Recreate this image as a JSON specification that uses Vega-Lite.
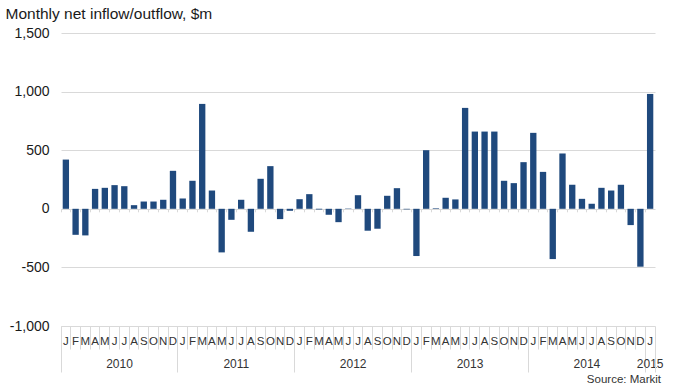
{
  "$schema": "https://vega.github.io/schema/vega-lite/v6.json",
  "width": 594,
  "height": 293,
  "autosize": "none",
  "padding": {"left": 61, "top": 33, "right": 20, "bottom": 59},
  "background": "white",
  "config": {
    "view": {"stroke": null},
    "font": "Liberation Sans",
    "axis": {"labelFont": "Liberation Sans", "titleFont": "Liberation Sans"}
  },
  "title": {
    "text": "Source: Markit",
    "orient": "bottom",
    "anchor": "end",
    "frame": "group",
    "fontSize": 11.5,
    "fontWeight": "normal",
    "color": "#333333",
    "offset": 1,
    "dx": 6
  },
  "data": {
    "values": [
      {"m": "2010-01", "v": 420}, {"m": "2010-02", "v": -222}, {"m": "2010-03", "v": -227}, {"m": "2010-04", "v": 170},
      {"m": "2010-05", "v": 179}, {"m": "2010-06", "v": 202}, {"m": "2010-07", "v": 193}, {"m": "2010-08", "v": 31},
      {"m": "2010-09", "v": 62}, {"m": "2010-10", "v": 62}, {"m": "2010-11", "v": 77}, {"m": "2010-12", "v": 324},
      {"m": "2011-01", "v": 88}, {"m": "2011-02", "v": 239}, {"m": "2011-03", "v": 895}, {"m": "2011-04", "v": 156},
      {"m": "2011-05", "v": -372}, {"m": "2011-06", "v": -94}, {"m": "2011-07", "v": 77}, {"m": "2011-08", "v": -196},
      {"m": "2011-09", "v": 256}, {"m": "2011-10", "v": 364}, {"m": "2011-11", "v": -88}, {"m": "2011-12", "v": -17},
      {"m": "2012-01", "v": 82}, {"m": "2012-02", "v": 125}, {"m": "2012-03", "v": -6}, {"m": "2012-04", "v": -51},
      {"m": "2012-05", "v": -114}, {"m": "2012-06", "v": 3}, {"m": "2012-07", "v": 116}, {"m": "2012-08", "v": -187},
      {"m": "2012-09", "v": -170}, {"m": "2012-10", "v": 111}, {"m": "2012-11", "v": 176}, {"m": "2012-12", "v": -5},
      {"m": "2013-01", "v": -403}, {"m": "2013-02", "v": 500}, {"m": "2013-03", "v": 5}, {"m": "2013-04", "v": 94},
      {"m": "2013-05", "v": 80}, {"m": "2013-06", "v": 861}, {"m": "2013-07", "v": 659}, {"m": "2013-08", "v": 659},
      {"m": "2013-09", "v": 659}, {"m": "2013-10", "v": 239}, {"m": "2013-11", "v": 219}, {"m": "2013-12", "v": 398},
      {"m": "2014-01", "v": 648}, {"m": "2014-02", "v": 315}, {"m": "2014-03", "v": -429}, {"m": "2014-04", "v": 472},
      {"m": "2014-05", "v": 205}, {"m": "2014-06", "v": 85}, {"m": "2014-07", "v": 43}, {"m": "2014-08", "v": 179},
      {"m": "2014-09", "v": 156}, {"m": "2014-10", "v": 205}, {"m": "2014-11", "v": -139}, {"m": "2014-12", "v": -494},
      {"m": "2015-01", "v": 980}
    ]
  },
  "resolve": {"axis": {"x": "independent"}},
  "layer": [
    {
      "mark": {"type": "bar", "color": "#1f497d", "width": {"band": 0.65}},
      "encoding": {
        "x": {
          "field": "m",
          "type": "ordinal",
          "scale": {"paddingInner": 0, "paddingOuter": 0},
          "axis": {
            "orient": "bottom",
            "title": null,
            "domain": false,
            "grid": false,
            "bandPosition": 0,
            "ticks": true,
            "tickSize": 23,
            "tickColor": "#d9d9d9",
            "tickWidth": 1,
            "labelExpr": "['J','F','M','A','M','J','J','A','S','O','N','D'][toNumber(slice(datum.value,5))-1]",
            "labelAngle": 0,
            "labelAlign": "center",
            "labelBaseline": "middle",
            "labelPadding": -8,
            "labelFontSize": 11.5,
            "labelColor": "#333333",
            "labelOverlap": false
          }
        },
        "y": {
          "field": "v",
          "type": "quantitative",
          "scale": {"domain": [-1000, 1500], "nice": false},
          "axis": {
            "values": [-1000, -500, 0, 500, 1000, 1500],
            "format": ",d",
            "labelExpr": "replace(datum.label, '\u2212', '-')",
            "domain": false,
            "ticks": false,
            "grid": true,
            "gridColor": "#d9d9d9",
            "gridWidth": 1,
            "labelFontSize": 14,
            "labelColor": "#1a1a1a",
            "labelPadding": 12,
            "title": "Monthly net inflow/outflow, $m",
            "titleAngle": 0,
            "titleAlign": "left",
            "titleBaseline": "alphabetic",
            "titleX": -56,
            "titleY": -15,
            "titleFontSize": 15.5,
            "titleFontWeight": "normal",
            "titleColor": "#1a1a1a"
          }
        }
      }
    },
    {
      "mark": {"type": "point", "opacity": 0},
      "encoding": {
        "x": {
          "field": "m",
          "type": "ordinal",
          "axis": {
            "orient": "bottom",
            "title": null,
            "domain": false,
            "grid": false,
            "bandPosition": 0,
            "values": ["2010-01", "2011-01", "2012-01", "2013-01", "2014-01", "2015-01"],
            "tickSize": 46,
            "tickColor": "#d9d9d9",
            "tickWidth": 1,
            "labelExpr": "slice(datum.value,0,4)",
            "labelAngle": 0,
            "labelAlign": "center",
            "labelBaseline": "middle",
            "labelPadding": -9,
            "labelOffset": {"condition": {"test": "datum.value == '2015-01'", "value": 0}, "value": 53.6},
            "labelFontSize": 12,
            "labelColor": "#333333",
            "labelOverlap": false
          }
        }
      }
    },
    {
      "mark": {"type": "point", "opacity": 0},
      "encoding": {
        "x": {
          "field": "m",
          "type": "ordinal",
          "axis": {
            "orient": "bottom",
            "title": null,
            "domain": false,
            "grid": false,
            "labels": false,
            "bandPosition": 1,
            "values": ["2015-01"],
            "tickSize": 46,
            "tickColor": "#d9d9d9",
            "tickWidth": 1
          }
        }
      }
    },
    {
      "mark": {"type": "point", "opacity": 0},
      "encoding": {
        "x": {
          "field": "m",
          "type": "ordinal",
          "axis": {
            "orient": "bottom",
            "title": null,
            "domain": false,
            "grid": false,
            "labels": false,
            "bandPosition": 0,
            "offset": -117.2,
            "tickSize": 3,
            "tickColor": "#d9d9d9",
            "tickWidth": 1
          }
        }
      }
    }
  ]
}
